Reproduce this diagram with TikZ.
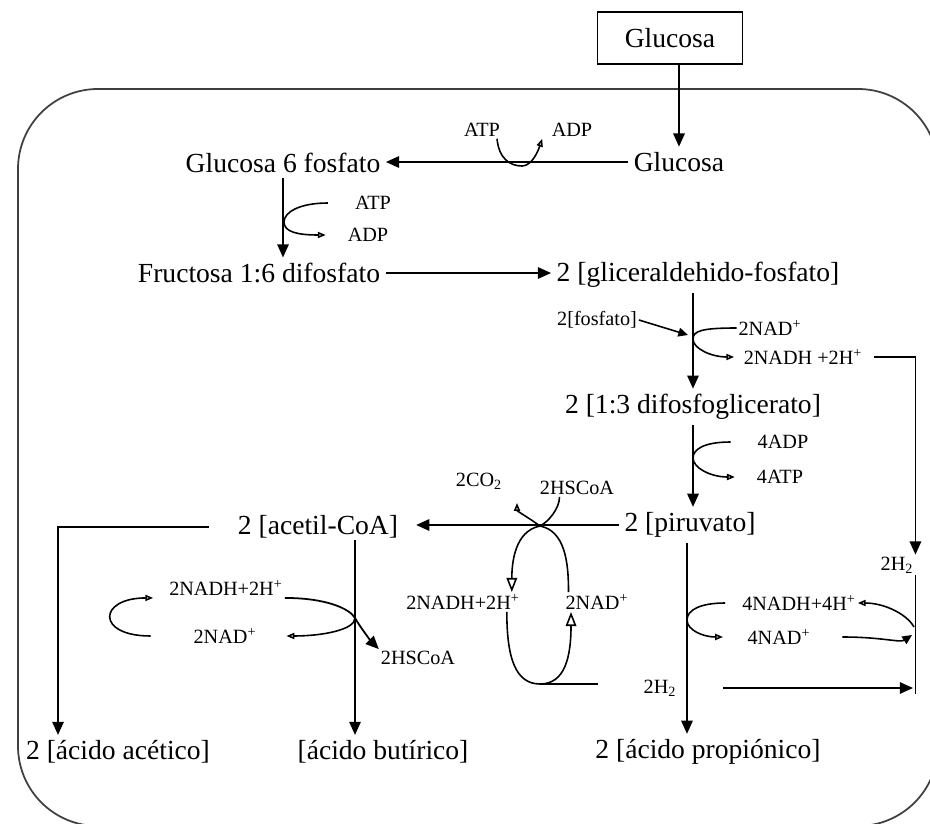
\documentclass[tikz,border=0pt]{standalone}
\usepackage{fontspec}
\setmainfont{Liberation Serif}
\usetikzlibrary{arrows.meta}

\begin{document}
\begin{tikzpicture}[x=0.02cm, y=-0.02cm,
    main/.style={font=\fontsize{15.7}{18}\selectfont, inner sep=3pt},
    lab/.style={font=\fontsize{11.5}{13}\selectfont, inner sep=1pt},
    arr/.style={-{Triangle[length=7.5pt,width=6.5pt]}, line width=1pt},
    sarr/.style={-{Triangle[length=5.5pt,width=5pt]}, line width=0.9pt},
    oarr/.style={-{Triangle[open,length=4.5pt,width=3.5pt]}, line width=0.9pt},
    boarr/.style={-{Triangle[open,length=8pt,width=6pt]}, line width=0.9pt},
    cur/.style={line width=0.9pt}
]
\useasboundingbox (0,0) rectangle (930,824);
\draw[line width=1pt, black!75, rounded corners=1.6cm] (18,89) rectangle (938,826);

% metabolitos
\node[main, draw, line width=1pt, minimum width=2.9cm, minimum height=1.04cm] (gluext) at (670,38) {Glucosa};
\node[main] (gluint) at (679,162) {Glucosa};
\node[main] (g6p) at (283,163) {Glucosa 6 fosfato};
\node[main] (fru) at (259,273) {Fructosa 1:6 difosfato};
\node[main] (gap) at (698,275) {2 [gliceraldehido-fosfato]};
\node[main] (dpg) at (693,407) {2 [1:3 difosfoglicerato]};
\node[main] (pir) at (690,525) {2 [piruvato]};
\node[main] (acetyl) at (318,527) {2 [acetil-CoA]};
\node[main] (acetic) at (118,752) {2 [ácido acético]};
\node[main] (butir) at (383,752) {[ácido butírico]};
\node[main] (propion) at (708,752) {2 [ácido propiónico]};

% cofactores
\node[lab] (atp1) at (482,130) {ATP};
\node[lab] (adp1) at (572,130) {ADP};
\node[lab] (atp2) at (373,203) {ATP};
\node[lab] (adp2) at (368,235) {ADP};
\node[lab] (fosf) at (597,320) {2[fosfato]};
\node[lab] (nad1) at (770,328) {2NAD\textsuperscript{+}};
\node[lab] (nadh1) at (803,357) {2NADH +2H\textsuperscript{+}};
\node[lab] (adp4) at (783,442) {4ADP};
\node[lab] (atp4) at (780,477) {4ATP};
\node[lab] (co2) at (479,481) {2CO\textsubscript{2}};
\node[lab] (hscoa1) at (577,488) {2HSCoA};
\node[lab] (nadhm) at (463,602) {2NADH+2H\textsuperscript{+}};
\node[lab] (nadm) at (597,602) {2NAD\textsuperscript{+}};
\node[lab] (nadhl) at (226,588) {2NADH+2H\textsuperscript{+}};
\node[lab] (nadl) at (225,636) {2NAD\textsuperscript{+}};
\node[lab] (hscoa2) at (418,658) {2HSCoA};
\node[lab] (h2r) at (897,565) {2H\textsubscript{2}};
\node[lab] (nadhr) at (799,603) {4NADH+4H\textsuperscript{+}};
\node[lab] (nadr) at (779,637) {4NAD\textsuperscript{+}};
\node[lab] (h2b) at (660,688) {2H\textsubscript{2}};

% puntos de union
\coordinate (j1) at (522,166);
\coordinate (j2) at (284,222);
\coordinate (j3) at (693,339);
\coordinate (pf) at (688,335);
\coordinate (j4) at (693,458);
\coordinate (j5) at (540,526);
\coordinate (co2t) at (517,503);
\coordinate (j6) at (540,684);
\coordinate (loopend) at (598,684);
\coordinate (j7) at (355,618);
\coordinate (bj) at (355,540);
\coordinate (j8) at (687,620);
\coordinate (j9) at (914,627);
\coordinate (j10) at (912,635);
\coordinate (rb) at (913,694);
\coordinate (h2s) at ([xshift=0.9cm]h2b.east);

% glucolisis
\draw[arr] (gluext.south -| gluint) -- (gluint.north);
\draw[arr] (gluint.west) -- (gluint.west -| g6p.east);
\draw[oarr] ([xshift=0.3cm]atp1.south) .. controls +(2,20) and +(-12,0) .. (j1) .. controls +(10,0) and +(-4,12) .. ([xshift=-0.15cm]adp1.south west);
\draw[arr] (g6p.south) -- (g6p.south |- fru.north);
\draw[oarr] ([xshift=-0.5cm]atp2.west) .. controls +(-28,0) and +(0,-10) .. (j2) .. controls +(0,10) and +(-28,0) .. ([xshift=-0.4cm]adp2.west);
\draw[arr] (fru.east) -- (fru.east -| gap.west);
\draw[arr] (dpg |- gap.south) -- (dpg.north);
\draw[sarr] (fosf.east) -- (pf);
\draw[oarr] (nad1.west) .. controls +(-35,0) and +(0,-8) .. (j3) .. controls +(0,10) and +(-22,0) .. ([xshift=-0.15cm]nadh1.west);
\draw[arr] ([xshift=0.2cm]nadh1.east) -| (h2r.north east);
\draw[cur] (h2r.south east) -- (h2r.south east |- rb);
\draw[arr] (dpg.south) -- (dpg.south |- pir.north);
\draw[oarr] ([xshift=-0.5cm]adp4.west) .. controls +(-28,0) and +(0,-8) .. (j4) .. controls +(0,10) and +(-24,0) .. ([xshift=-0.4cm]atp4.west);

% piruvato -> acetil-CoA
\draw[arr, shorten >=0.25cm] (pir.west) -- (pir.west -| acetyl.east);
\draw[oarr] (j5) .. controls +(-8,-6) and +(0,8) .. (co2t);
\draw[cur] ([xshift=-0.35cm]hscoa1.south) .. controls +(0,12) and +(8,-4) .. (j5);
\draw[boarr] (j5) .. controls +(-25,5) and +(0,-30) .. ([xshift=-0.2cm]nadhm.north east);
\draw[cur] (j5) .. controls +(25,5) and +(0,-30) .. ([xshift=0.1cm]nadm.north west);
\draw[boarr] ([xshift=-0.3cm]nadhm.south east) .. controls +(0,45) and +(-25,0) .. (j6) .. controls +(25,0) and +(0,45) .. ([xshift=0.15cm]nadm.south west);
\draw[cur] (j6) -- (loopend);

% acidos
\draw[arr] ([xshift=-0.46cm]acetyl.west) -| ([xshift=-1.2cm]acetic.north);
\draw[arr] (bj) -- (bj |- butir.north);
\draw[oarr] ([xshift=-0.82cm]nadl.west) .. controls +(-55,0) and +(-55,0) .. ([xshift=-0.28cm]nadhl.south west);
\draw[arr] (nadhl.south east) .. controls +(42,0) and +(-5,-9) .. (j7) .. controls +(5,9) and +(-7,-7) .. (hscoa2.north west);
\draw[oarr] (j7) .. controls +(0,12) and +(35,0) .. ([xshift=0.56cm]nadl.east);
\draw[arr] (pir.south -| j8) -- (j8 |- propion.north);
\draw[oarr] ([xshift=-0.3cm]nadhr.west) .. controls +(-25,0) and +(0,-10) .. (j8) .. controls +(0,10) and +(-20,0) .. ([xshift=-0.45cm]nadr.west);
\draw[oarr] (j9) .. controls +(-8,-14) and +(25,0) .. (nadhr.east);
\draw[sarr] ([xshift=0.6cm]nadr.east) .. controls +(40,0) and +(-12,8) .. (j10);
\draw[arr] (h2s) -- (h2s -| rb);
\end{tikzpicture}
\end{document}
